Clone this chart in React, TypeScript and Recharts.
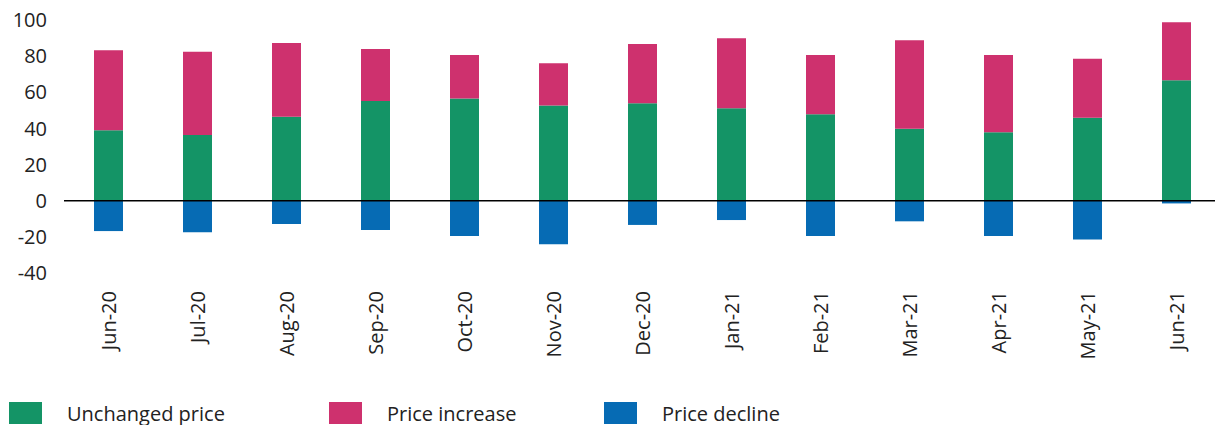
import React from 'react';
import { BarChart, Bar, XAxis, YAxis, ReferenceLine } from 'recharts';

const months = [
  'Jun-20', 'Jul-20', 'Aug-20', 'Sep-20', 'Oct-20', 'Nov-20', 'Dec-20',
  'Jan-21', 'Feb-21', 'Mar-21', 'Apr-21', 'May-21', 'Jun-21',
];
const unchanged = [39, 36.3, 46.4, 55.2, 56.5, 52.7, 54, 51.2, 47.9, 39.8, 37.9, 45.9, 66.7];
const increase = [44.3, 46.2, 40.9, 28.8, 24.2, 23.3, 32.7, 38.7, 32.8, 49, 42.8, 32.6, 32];
const decline = [-16.8, -17.5, -12.9, -16.2, -19.5, -24.1, -13.4, -10.7, -19.5, -11.4, -19.5, -21.4, -1.5];
const yTicks = [-40, -20, 0, 20, 40, 60, 80, 100];

const GREEN = '#149466';
const PINK = '#CE316E';
const BLUE = '#066BB4';
const FONT = '"Open Sans", sans-serif';
const TEXT = '#222222';

const data = months.map((month, i) => ({
  month,
  unchanged: unchanged[i],
  increase: increase[i],
  decline: decline[i],
}));

const legendItems = [
  { label: 'Unchanged price', color: GREEN, left: 9, textLeft: 67 },
  { label: 'Price increase', color: PINK, left: 329, textLeft: 387 },
  { label: 'Price decline', color: BLUE, left: 604, textLeft: 662 },
];

const MonthTick = (props: any) => {
  const { x, y, payload } = props;
  return (
    <text
      x={x}
      y={y + 10}
      transform={`rotate(-90, ${x}, ${y + 10})`}
      textAnchor="end"
      dy="0.35em"
      fontSize={20}
      fontFamily={FONT}
      fill={TEXT}
    >
      {payload.value}
    </text>
  );
};

export default function App() {
  return (
    <div
      style={{
        position: 'absolute',
        left: 0,
        top: 0,
        width: 1215,
        height: 425,
        overflow: 'hidden',
        background: '#fff',
        fontFamily: FONT,
      }}
    >
      <BarChart
        width={1221}
        height={425}
        data={data}
        stackOffset="sign"
        margin={{ top: 20, right: 0, left: 0, bottom: 0 }}
      >
        <XAxis
          dataKey="month"
          axisLine={false}
          tickLine={false}
          height={152}
          interval={0}
          tick={<MonthTick />}
        />
        <YAxis
          width={64}
          domain={[-40, 100]}
          ticks={yTicks}
          axisLine={false}
          tickLine={false}
          tickMargin={11}
          tick={{ fontSize: 20, fontFamily: FONT, fill: TEXT }}
        />
        <Bar dataKey="unchanged" stackId="a" fill={GREEN} barSize={29} isAnimationActive={false} />
        <Bar dataKey="increase" stackId="a" fill={PINK} barSize={29} isAnimationActive={false} />
        <Bar dataKey="decline" stackId="a" fill={BLUE} barSize={29} isAnimationActive={false} />
        <ReferenceLine y={0} stroke="#000" strokeWidth={1.5} />
      </BarChart>
      {legendItems.map((item) => (
        <React.Fragment key={item.label}>
          <div
            style={{
              position: 'absolute',
              left: item.left,
              top: 402,
              width: 33,
              height: 22,
              background: item.color,
            }}
          />
          <div
            style={{
              position: 'absolute',
              left: item.textLeft,
              top: 413,
              transform: 'translateY(-50%)',
              fontSize: 20,
              color: TEXT,
              whiteSpace: 'nowrap',
            }}
          >
            {item.label}
          </div>
        </React.Fragment>
      ))}
    </div>
  );
}
